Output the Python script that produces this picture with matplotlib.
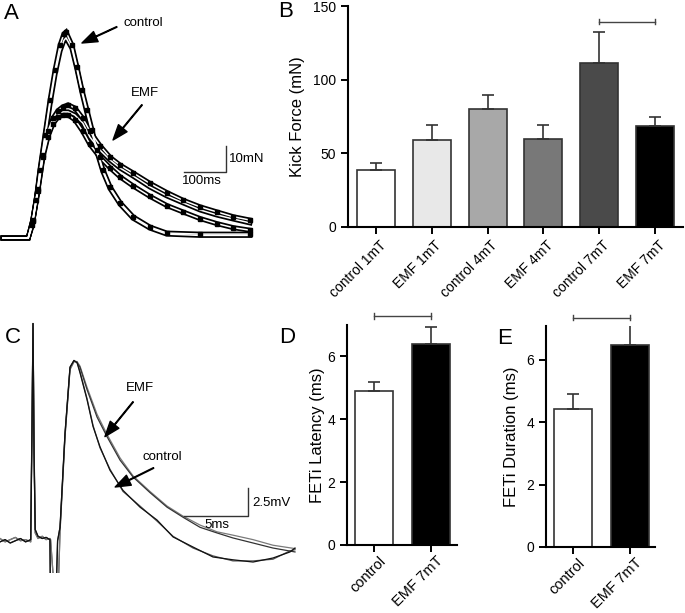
import numpy as np
import matplotlib
matplotlib.use('Agg')
import matplotlib.pyplot as plt
import matplotlib.transforms as mtransforms

plt.rcParams['font.family'] = ['Liberation Sans', 'DejaVu Sans']

W, H = 685, 613

# --- panel A: kick force traces (ms, mN)
ctrl_t = [0, 60, 69, 79, 88, 100, 112, 124, 136, 145, 150, 164, 176, 188, 200, 212,
          224, 238, 255, 279, 310, 350, 390, 469, 588]
ctrl_1 = [0, 0, 5, 14.6, 26.2, 39.6, 53, 64.6, 74.2, 78.5, 79.2, 74.2, 65.8, 56.9, 49.2,
          41.5, 33.8, 26.2, 19.6, 13.5, 8.1, 4.2, 1.9, 1.5, 1.5]
ctrl_2 = [0, 0, 4.5, 14, 25.5, 38.5, 51.5, 63, 72, 76, 77, 73, 65, 56, 48, 40.5, 33,
          25.5, 19, 13, 7.6, 3.8, 1.5, 1.0, 1.0]
emf_t = [0, 60, 71, 83, 95, 107, 119, 131, 143, 155, 171, 190, 207, 231, 255, 279, 310,
         350, 390, 429, 469, 510, 548, 588]
emf_1 = [0, 0, 7, 19, 32, 41, 46, 49, 50.5, 51.2, 50, 46, 41, 35.5, 31, 28, 25, 21, 17.5,
         14.5, 12, 10, 8.2, 6.9]
emf_2 = [0, 0, 6.9, 18.5, 31.9, 39.6, 44.6, 47.3, 48.5, 48.5, 47.3, 44.2, 38.8, 33.8, 30,
         26.9, 23.8, 19.6, 16.2, 13.5, 10.8, 8.8, 7.3, 5.8]
emf_3 = [0, 0, 6.5, 18, 31, 39, 44, 46.5, 47.3, 47.3, 45.5, 41, 36, 31, 27, 23.5, 20, 16,
         12.5, 10, 7.5, 5.5, 4, 3]

# --- panel B: kick force means
kick_labels = ['control 1mT', 'EMF 1mT', 'control 4mT', 'EMF 4mT', 'control 7mT', 'EMF 7mT']
kick_mean = [38.5, 59, 79.8, 60, 111.5, 68.4]
kick_err = [5, 10, 9.5, 9.3, 21.1, 6.6]
kick_colors = ['white', '#e8e8e8', '#a8a8a8', '#787878', '#4a4a4a', 'black']

# --- panel C: FETi recordings (ms, mV)
pre_t = [0, 0.4, 0.8, 1.2, 1.6, 2.0, 2.4, 2.5, 2.58, 2.66, 2.75, 2.97, 3.3, 3.6, 3.9,
         3.95, 4.35, 4.5, 4.69, 5.08, 5.47, 5.78, 6.02]
pre_1 = [0.1, 0.3, 0.0, 0.2, 0.4, 0.1, 0.3, 10, 19.6, 8, 1.2, 0.6, 0.4, 0.5, 0.3, -6, -6,
         0.2, 1.4, 9.8, 15.7, 16.3, 16.1]
pre_2 = [0.4, 0.1, 0.3, 0.5, 0.2, 0.3, 0.1, 11, 19.6, 9, 0.9, 0.4, 0.6, 0.3, 0.4, 0.3, -6,
         -6, 1.0, 9.5, 15.5, 16.2, 16.2]
ctrl_c_t = [6.25, 6.8, 7.27, 7.81, 8.59, 9.61, 10.94, 12.27, 13.52, 15.08, 16.64, 18.2,
            19.77, 21.33, 22.66, 23.05]
ctrl_c_1 = [15.2, 12.8, 10.4, 8.6, 6.5, 4.7, 3.2, 2.05, 0.54, -0.36, -1.25, -1.5, -1.7,
            -1.34, -0.8, -0.45]
ctrl_c_2 = [15.3, 12.9, 10.5, 8.5, 6.6, 4.6, 3.3, 1.95, 0.6, -0.45, -1.15, -1.6, -1.6,
            -1.45, -0.7, -0.6]
emf_c_t = [6.25, 6.8, 7.58, 8.36, 9.38, 10.39, 11.72, 13.05, 14.3, 15.63, 16.95, 18.2,
           19.77, 21.33, 23.05]
emf_c_1 = [15.7, 13.7, 11.25, 9.5, 7.4, 5.9, 4.5, 3.2, 2.3, 1.4, 0.9, 0.45, 0.0, -0.45, -0.8]
emf_c_2 = [15.8, 13.9, 11.5, 9.7, 7.6, 6.0, 4.6, 3.3, 2.4, 1.6, 1.0, 0.7, 0.3, -0.2, -0.5]

# --- panels D, E
feti_labels = ['control', 'EMF 7mT']
latency_mean = [4.9, 6.4]
latency_err = [0.3, 0.53]
duration_mean = [4.42, 6.48]
duration_err = [0.49, 0.64]

fig = plt.figure(figsize=(W / 100, H / 100), dpi=100)


def px_axes(left, top, right, bottom):
    return fig.add_axes([left / W, 1 - bottom / H, (right - left) / W, (bottom - top) / H])


def arrow(ax, head, tail):
    ax.annotate('', xy=head, xytext=tail,
                arrowprops=dict(facecolor='black', edgecolor='black', width=0.5,
                                headwidth=8, headlength=11, shrink=0))


def bars(ax, means, errs, colors, width):
    x = np.arange(len(means))
    ax.bar(x, means, width=width, color=colors, edgecolor='#333333', linewidth=1.2,
           yerr=[np.zeros(len(errs)), errs], capsize=4.5,
           error_kw=dict(ecolor='#333333', elinewidth=1.2, capthick=1.2))
    for s in ['top', 'right']:
        ax.spines[s].set_visible(False)
    for s in ['left', 'bottom']:
        ax.spines[s].set_linewidth(1.5)
    ax.tick_params(width=1.4, length=5, labelsize=10)
    return x


def rot_labels(ax, labels, size, dx, dy):
    ax.set_xticklabels(labels, rotation=45, ha='right', rotation_mode='anchor', fontsize=size)
    off = mtransforms.ScaledTranslation(dx / 100, dy / 100, fig.dpi_scale_trans)
    for lab in ax.get_xticklabels():
        lab.set_transform(lab.get_transform() + off)


def sig(ax, x0, x1, y):
    ax.plot([x0, x1], [y, y], color='#444444', lw=1.0, clip_on=False)
    h = 0.012 * ax.get_ylim()[1]
    for xx in (x0, x1):
        ax.plot([xx, xx], [y - h, y + h], color='#444444', lw=1.0, clip_on=False)


# ---------- A
axA = px_axes(0, 20, 255, 245)
axA.set_xlim(-7.14, 600)
axA.set_ylim(-2.69, 83.85)
axA.axis('off')
traces = [(ctrl_t, ctrl_1), (ctrl_t, ctrl_2), (emf_t, emf_1), (emf_t, emf_2), (emf_t, emf_3)]
for t, v in traces:
    axA.plot(t, v, color='black', lw=3.6, solid_joinstyle='miter')
for t, v in traces:
    axA.plot(t, v, color='white', lw=1.1)
for t, v in [(ctrl_t, ctrl_1), (emf_t, emf_1), (emf_t, emf_3)]:
    axA.plot(t[2:], v[2:], ls='none', marker='s', ms=3.5, color='black')
axA.plot([531, 531, 431], [35.4, 25.4, 25.4], color='#333333', lw=1.0)
axA.text(538, 30.4, '10mN', fontsize=9.5, va='center', ha='left')
axA.text(474, 21.9, '100ms', fontsize=9.5, va='center', ha='center')
axA.text(333, 82.7, 'control', fontsize=9.5, va='center', ha='center')
arrow(axA, (188, 75), (271, 81.2))
axA.text(338, 55.8, 'EMF', fontsize=9.5, va='center', ha='center')
arrow(axA, (262, 37.7), (331, 51.2))

# ---------- B
axB = px_axes(348, 6, 683, 227)
xb = bars(axB, kick_mean, kick_err, kick_colors, 0.68)
axB.set_xlim(-0.5, 5.5)
axB.set_ylim(0, 150)
axB.set_yticks([0, 50, 100, 150])
axB.set_xticks(xb)
rot_labels(axB, kick_labels, 10, 3, 1)
axB.set_ylabel('Kick Force (mN)', fontsize=12, labelpad=6)
sig(axB, 4, 5, 139.4)

# ---------- C
axC = px_axes(0, 315, 300, 573)
axC.set_xlim(0, 23.44)
axC.set_ylim(-2.68, 20.36)
axC.axis('off')
for pv, ct, cv, col in [(pre_2, ctrl_c_t, ctrl_c_2, '#555555'), (pre_2, emf_c_t, emf_c_2, '#7a7a7a'),
                        (pre_1, emf_c_t, emf_c_1, '#333333'), (pre_1, ctrl_c_t, ctrl_c_1, '#111111')]:
    axC.plot(pre_t + ct, pv + cv, color=col, lw=0.9)
axC.plot([19.4, 19.4, 14.4], [4.91, 2.41, 2.41], color='#333333', lw=1.0)
axC.text(19.7, 3.57, '2.5mV', fontsize=9.5, va='center', ha='left')
axC.text(16.95, 1.6, '5ms', fontsize=9.5, va='center', ha='center')
axC.text(10.9, 13.8, 'EMF', fontsize=9.5, va='center', ha='center')
arrow(axC, (8.2, 9.5), (10.4, 12.6))
axC.text(12.7, 7.7, 'control', fontsize=9.5, va='center', ha='center')
arrow(axC, (9.0, 5.0), (12.0, 6.7))

# ---------- D
axD = px_axes(347, 325, 457, 545)
xd = bars(axD, latency_mean, latency_err, ['white', 'black'], 0.67)
axD.set_xlim(-0.474, 1.456)
axD.set_ylim(0, 7.0)
axD.set_yticks([0, 2, 4, 6])
axD.set_xticks(xd)
rot_labels(axD, feti_labels, 10.5, 5, 3)
axD.set_ylabel('FETi Latency (ms)', fontsize=12, labelpad=2)
sig(axD, 0, 1, 7.29)

# ---------- E
axE = px_axes(546, 326, 655, 547)
xe = bars(axE, duration_mean, duration_err, ['white', 'black'], 0.67)
axE.set_xlim(-0.474, 1.44)
axE.set_ylim(0, 7.08)
axE.set_yticks([0, 2, 4, 6])
axE.set_xticks(xe)
rot_labels(axE, feti_labels, 10.5, 5, 3)
axE.set_ylabel('FETi Duration (ms)', fontsize=12, labelpad=5)
sig(axE, 0, 1, 7.35)

# panel letters
for lab, x, y in [('A', 4, 3), ('B', 278, 1), ('C', 5, 327), ('D', 279, 327), ('E', 497, 328)]:
    fig.text(x / W, 1 - y / H, lab, fontsize=16, ha='left', va='top')

fig.savefig('out.png', dpi=100)
